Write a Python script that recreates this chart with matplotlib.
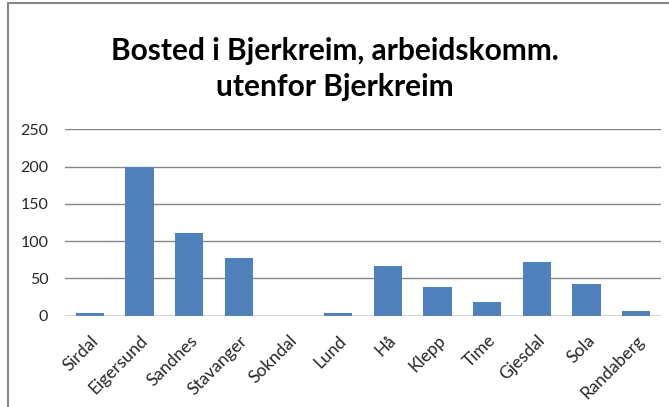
import matplotlib.pyplot as plt
from matplotlib.patches import Rectangle

plt.rcParams['font.family'] = ['Lato', 'DejaVu Sans']

# data
kommuner = ['Sirdal', 'Eigersund', 'Sandnes', 'Stavanger', 'Sokndal', 'Lund',
            'Hå', 'Klepp', 'Time', 'Gjesdal', 'Sola', 'Randaberg']
antall = [4, 200, 111, 78, 0, 4, 66, 38, 19, 72, 42, 6]
y_ticks = [0, 50, 100, 150, 200, 250]

fig = plt.figure(figsize=(6.69, 4.07), dpi=100)
ax = fig.add_axes([0.0972, 0.2243, 0.8909, 0.458])

x = range(len(kommuner))
ax.bar(x, antall, width=0.57, color='#4F81BD', zorder=3)

ax.set_ylim(0, 250)
ax.set_xlim(-0.5, len(kommuner) - 0.5)
ax.set_yticks(y_ticks)
ax.set_yticklabels([str(t) for t in y_ticks], fontsize=11.5, color='#262626')
ax.set_xticks(list(x))
ax.set_xticklabels(kommuner, rotation=45, ha='right', rotation_mode='anchor',
                   fontsize=12.5, color='#262626')
ax.tick_params(axis='y', length=0, pad=12)
ax.tick_params(axis='x', length=0, pad=12)
ax.grid(axis='y', color='#868686', linewidth=1, zorder=0)
for s in ax.spines.values():
    s.set_visible(False)
ax.axhline(0, color='#868686', linewidth=1, zorder=4)

fig.text(0.5, 0.83, 'Bosted i Bjerkreim, arbeidskomm.\nutenfor Bjerkreim',
         ha='center', va='center', fontsize=21.5, fontweight='bold',
         linespacing=1.34)

# chart border (only top and left visible)
fig.patches.append(Rectangle((8 / 669, -0.1), 1.2, 1.1 - 3.5 / 407,
                             transform=fig.transFigure, fill=False,
                             edgecolor='#868686', linewidth=1.5))

fig.savefig('out.png', dpi=100)
